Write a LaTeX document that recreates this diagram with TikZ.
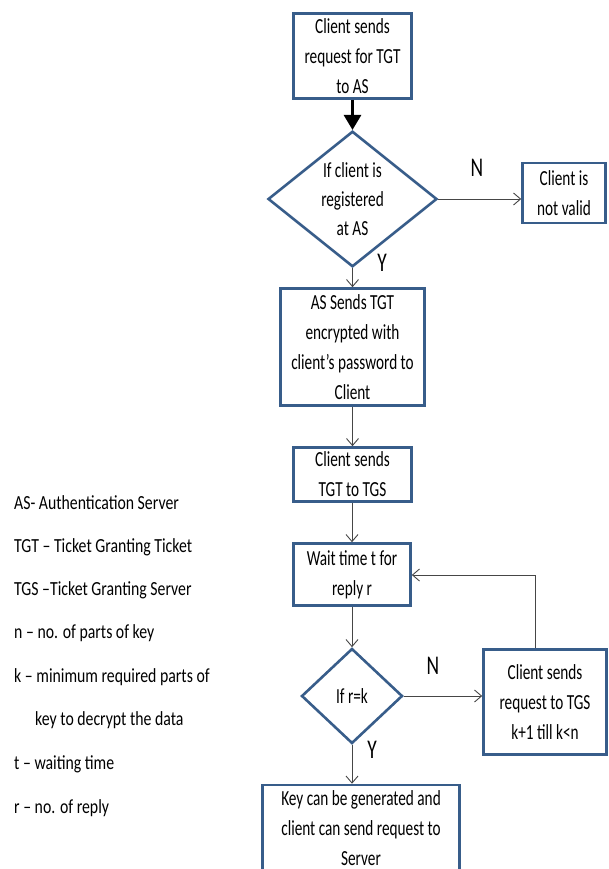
\documentclass[tikz,border=0pt]{standalone}
\usepackage{fontspec}
\setmainfont{Carlito}
\newfontfamily\boxfont{Carlito}[FakeStretch=0.71]
\newfontfamily\legfont{Carlito}[FakeStretch=0.79]
\newfontfamily\lblfont{Carlito}[FakeStretch=0.72]
\usetikzlibrary{shapes.geometric,arrows.meta}
\definecolor{boxblue}{RGB}{56,93,138}
\definecolor{conn}{RGB}{70,70,70}
\tikzset{
  stepbox/.style={draw=boxblue, line width=2.6pt, fill=white, rectangle, align=center, inner sep=0pt,
    font=\boxfont\fontsize{21.5}{30}\selectfont},
  decide/.style={draw=boxblue, line width=2.6pt, fill=white, diamond, align=center, inner sep=0pt,
    font=\boxfont\fontsize{21.5}{29}\selectfont},
  conn/.style={draw=conn, line width=0.9pt, -{Straight Barb[length=7pt,width=12pt]}},
  thickarrow/.style={draw=black, line width=3pt, -{Triangle[length=15pt,width=17pt]}},
  yn/.style={font=\lblfont\fontsize{27}{27}\selectfont, inner sep=0pt},
  legend/.style={anchor=west, inner sep=0pt, font=\legfont\fontsize{20}{20}\selectfont}
}
\begin{document}
\begin{tikzpicture}[x=1pt,y=-1pt]
\useasboundingbox (0,0) rectangle (609,869);
\clip (0,0) rectangle (609,869);
\node[stepbox, minimum width=118pt, minimum height=85pt] (b1) at (352.5,56) {Client sends\\request for TGT\\to AS};
\node[decide, minimum width=169pt, minimum height=116pt] (d1) at (352.5,199) {If client is\\registered\\at AS};
\node[stepbox, minimum width=83pt, minimum height=60pt] (inv) at (564,193) {Client is\\not valid};
\node[stepbox, minimum width=144pt, minimum height=117pt] (b2) at (352.5,347) {AS Sends TGT\\encrypted with\\client’s password to\\Client};
\node[stepbox, minimum width=118pt, minimum height=54pt] (b3) at (352.5,474.5) {Client sends\\TGT to TGS};
\node[stepbox, minimum width=117pt, minimum height=62pt] (b4) at (352,574.5) {Wait time t for\\reply r};
\node[decide, minimum width=101pt, minimum height=95pt] (d2) at (352,696) {If r=k};
\node[stepbox, minimum width=123pt, minimum height=105pt] (b5) at (545,702) {Client sends\\request to TGS\\k+1 till k<n};
\node[stepbox, minimum width=197pt, minimum height=86pt] (b6) at (361,828) {Key can be generated and\\client can send request to\\Server};

\draw[thickarrow] (b1.south -| d1.north) -- (d1.north);
\draw[conn] (d1.east) -- (d1.east -| inv.west);
\draw[conn] (d1.south) -- (b2.north -| d1.south);
\draw[conn] (b2.south -| b3.north) -- (b3.north);
\draw[conn] (b3.south -| b4.north) -- (b4.north);
\draw[conn] (b4.south -| d2.north) -- (d2.north);
\draw[conn] (d2.east) -- (d2.east -| b5.west);
\coordinate (fbtop) at (535,648);
\coordinate (fbcorner) at (535,575);
\draw[conn] (fbtop) -- (fbcorner) -- (fbcorner -| b4.east);
\draw[conn] (d2.south) -- (b6.north -| d2.south);

\node[yn] (n1) at (477,168) {N};
\node[yn] (y1) at (382,263) {Y};
\node[yn] (n2) at (433,666) {N};
\node[yn] (y2) at (372,750) {Y};

\node[legend] (l1) at (14,503) {AS- Authentication Server};
\node[legend] (l2) at (14,547) {TGT – Ticket Granting Ticket};
\node[legend] (l3) at (14,590) {TGS –Ticket Granting Server};
\node[legend] (l4) at (14,633) {n – no. of parts of key};
\node[legend] (l5) at (14,677) {k – minimum required parts of};
\node[legend] (l6) at (35,720) {key to decrypt the data};
\node[legend] (l7) at (14,764) {t – waiting time};
\node[legend] (l8) at (14,808) {r – no. of reply};
\end{tikzpicture}
\end{document}
